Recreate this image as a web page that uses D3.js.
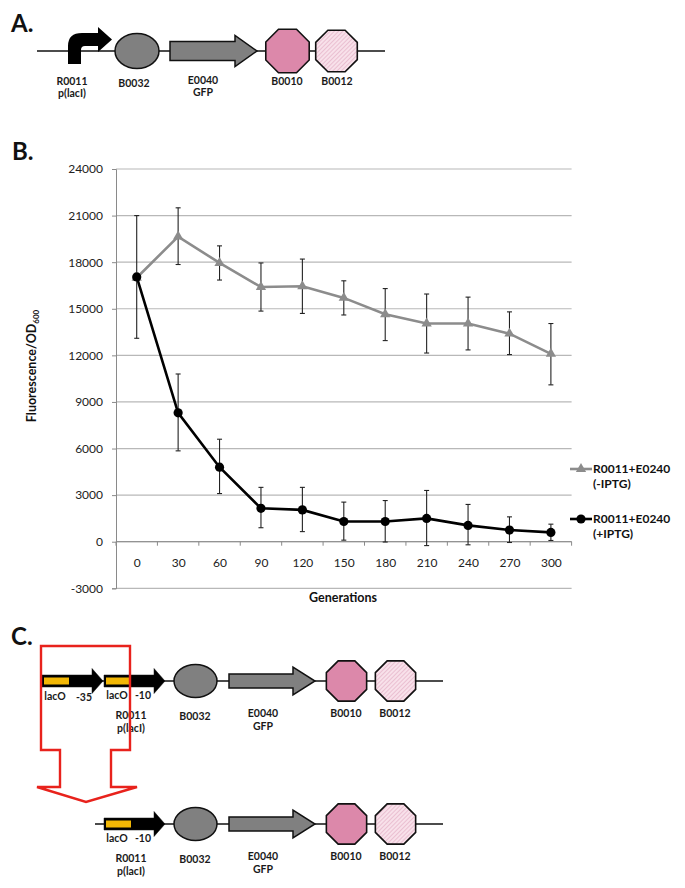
<!DOCTYPE html>
<html><head><meta charset="utf-8">
<script src="https://cdn.jsdelivr.net/npm/d3@7"></script>
<style>
body{margin:0;background:#fff;}
svg{display:block;font-family:Lato,"Open Sans",sans-serif;}
</style></head>
<body>
<svg id="fig" width="685" height="888"></svg>
<script>
// ---------- data ----------
const generations = ["0","30","60","90","120","150","180","210","240","270","300"];
const yTicks = [-3000,0,3000,6000,9000,12000,15000,18000,21000,24000];
const minusIPTG     = [17000,19650,17950,16400,16450,15700,14650,14050,14050,13400,12100];
const minusIPTGLow  = [13100,17850,16850,14850,14700,14600,12950,12150,12350,12050,10100];
const minusIPTGHigh = [21000,21500,19050,17950,18200,16800,16300,15950,15750,14800,14050];
const plusIPTG      = [17050,8300,4800,2150,2050,1300,1300,1500,1050,750,600];
const plusIPTGLow   = [null,5850,3100,900,650,100,-20,-250,-200,-50,80];
const plusIPTGHigh  = [null,10800,6600,3500,3500,2550,2650,3300,2400,1600,1130];
const seriesNames = ["R0011+E0240|(-IPTG)","R0011+E0240|(+IPTG)"];

const svg = d3.select("#fig");
svg.append("rect").attr("width",685).attr("height",888).attr("fill","#fff");

// hatch pattern
const defs = svg.append("defs");
const pat = defs.append("pattern").attr("id","hatch").attr("patternUnits","userSpaceOnUse")
  .attr("width",3).attr("height",3).attr("patternTransform","rotate(45)");
pat.append("rect").attr("width",3).attr("height",3).attr("fill","#f8e1ea");
pat.append("line").attr("x1",0).attr("y1",0).attr("x2",0).attr("y2",3).attr("stroke","#e2a9c0").attr("stroke-width",1.2);

const TXT = "#1a1a1a";
function label(g,x,y,t,size,anchor){
  return g.append("text").attr("x",x).attr("y",y).attr("text-anchor",anchor||"middle")
    .attr("font-size",size||10.5).attr("font-weight","bold").attr("fill",TXT).text(t);
}
function octagon(g,cx,cy,r,fill){
  const pts=d3.range(8).map(i=>{const a=Math.PI/8+i*Math.PI/4;return [cx+r*Math.cos(a),cy+r*Math.sin(a)];});
  g.append("polygon").attr("points",pts.map(p=>p.join(",")).join(" "))
    .attr("fill",fill).attr("stroke","#111").attr("stroke-width",1.6);
}
function bigArrow(g,x0,x1,hx,cy,bh,hh,fill,sw){
  const d=`M${x0},${cy-bh/2}L${hx},${cy-bh/2}L${hx},${cy-hh/2}L${x1},${cy}L${hx},${cy+hh/2}L${hx},${cy+bh/2}L${x0},${cy+bh/2}Z`;
  g.append("path").attr("d",d).attr("fill",fill).attr("stroke","#111").attr("stroke-width",sw);
}

// ---------- Panel A ----------
const A = svg.append("g");
A.append("text").attr("x",11).attr("y",32).attr("font-size",24).attr("font-weight","bold").attr("fill","#111").text("A.");
A.append("line").attr("x1",37).attr("x2",385).attr("y1",51).attr("y2",51).attr("stroke","#111").attr("stroke-width",1.6);
A.append("path").attr("d","M68,64L68,46Q68,33 82,33L98,33L98,27L112,39.5L98,52L98,46L85,46Q81,46 81,50L81,64Z").attr("fill","#000");
A.append("ellipse").attr("cx",137).attr("cy",51).attr("rx",22).attr("ry",17.5).attr("fill","#808080").attr("stroke","#111").attr("stroke-width",1.5);
bigArrow(A,170,257,235,51,19,31,"#808080",1.5);
octagon(A,287.5,51,23.5,"#dc88aa");
octagon(A,336.5,51,22.5,"url(#hatch)");
label(A,72,85,"R0011"); label(A,72,97,"p(lacI)");
label(A,134,87,"B0032");
label(A,203,84,"E0040"); label(A,203,96,"GFP");
label(A,287,85,"B0010"); label(A,337,85,"B0012");

// ---------- Panel B ----------
const B = svg.append("g");
B.append("text").attr("x",12).attr("y",160).attr("font-size",24).attr("font-weight","bold").attr("fill","#111").text("B.");
const x = d3.scalePoint().domain(generations).range([116,571.6]).padding(0.5);
const y = d3.scaleLinear().domain([-3000,24000]).range([588.3,169]);
const step = x.step();

B.selectAll("line.grid").data(yTicks).join("line").attr("class","grid")
  .attr("x1",116).attr("x2",571.6).attr("y1",d=>y(d)).attr("y2",d=>y(d))
  .attr("stroke","#b8b8b8").attr("stroke-width",1.2);
// y axis
const yAxis = d3.axisLeft(y).tickValues(yTicks).tickSize(4).tickPadding(9).tickFormat(d=>String(d));
const yg = B.append("g").attr("transform","translate(116,0)").call(yAxis);
yg.select(".domain").attr("stroke","#8a8a8a");
yg.selectAll(".tick line").attr("stroke","#8a8a8a");
yg.selectAll(".tick text").attr("font-size",12).attr("fill","#222").attr("font-family","Lato,sans-serif");
// x axis at y=0
const xAxis = d3.axisBottom(x).tickSize(0).tickPadding(17);
const xg = B.append("g").attr("transform",`translate(0,${y(0)})`).call(xAxis);
xg.select(".domain").attr("stroke","#8a8a8a").attr("d",`M116,0H571.6`);
xg.selectAll(".tick text").attr("font-size",12).attr("fill","#222").attr("font-family","Lato,sans-serif");
xg.selectAll("line.bt").data(d3.range(generations.length+1)).join("line").attr("class","bt")
  .attr("x1",i=>116+i*step).attr("x2",i=>116+i*step).attr("y1",0).attr("y2",4).attr("stroke","#8a8a8a");

B.append("text").attr("x",343).attr("y",602).attr("text-anchor","middle").attr("font-size",12.5).attr("font-weight","bold").attr("fill","#111").text("Generations");
const yt = B.append("text").attr("transform","translate(36,366) rotate(-90)").attr("text-anchor","middle")
  .attr("font-size",12.5).attr("font-weight","bold").attr("fill","#111");
yt.append("tspan").text("Fluorescence/OD");
yt.append("tspan").attr("font-size",8).attr("dy",3).text("600");

const line = d3.line().x((d,i)=>x(generations[i])).y(d=>y(d));
const GRAY = "#8c8c8c";
B.append("path").datum(minusIPTG).attr("d",line).attr("fill","none").attr("stroke",GRAY).attr("stroke-width",2.6);
B.append("path").datum(plusIPTG).attr("d",line).attr("fill","none").attr("stroke","#000").attr("stroke-width",2.6);

function errBars(lo,hi,col){
  const data = generations.map((g,i)=>({g,lo:lo[i],hi:hi[i]})).filter(d=>d.lo!=null);
  const eg = B.append("g").attr("stroke",col).attr("stroke-width",1.1);
  eg.selectAll("line.v").data(data).join("line").attr("x1",d=>x(d.g)).attr("x2",d=>x(d.g)).attr("y1",d=>y(d.lo)).attr("y2",d=>y(d.hi));
  eg.selectAll("line.t").data(data).join("line").attr("x1",d=>x(d.g)-2.5).attr("x2",d=>x(d.g)+2.5).attr("y1",d=>y(d.hi)).attr("y2",d=>y(d.hi));
  eg.selectAll("line.b").data(data).join("line").attr("x1",d=>x(d.g)-2.5).attr("x2",d=>x(d.g)+2.5).attr("y1",d=>y(d.lo)).attr("y2",d=>y(d.lo));
}
errBars(minusIPTGLow,minusIPTGHigh,"#222");
errBars(plusIPTGLow,plusIPTGHigh,"#222");

const tri = d3.symbol().type(d3.symbolTriangle).size(46);
B.selectAll("path.tri").data(minusIPTG).join("path").attr("class","tri")
  .attr("transform",(d,i)=>`translate(${x(generations[i])},${y(d)})`).attr("d",tri).attr("fill",GRAY);
B.selectAll("circle.dot").data(plusIPTG).join("circle").attr("class","dot")
  .attr("cx",(d,i)=>x(generations[i])).attr("cy",d=>y(d)).attr("r",4.6).attr("fill","#000");

// legend
const legY = [469,519];
seriesNames.forEach((nm,k)=>{
  const g = B.append("g");
  g.append("line").attr("x1",570).attr("x2",592).attr("y1",legY[k]).attr("y2",legY[k]).attr("stroke",k?"#000":GRAY).attr("stroke-width",2.6);
  if(k) g.append("circle").attr("cx",581).attr("cy",legY[k]).attr("r",4.6).attr("fill","#000");
  else g.append("path").attr("transform",`translate(581,${legY[k]})`).attr("d",tri).attr("fill",GRAY);
  const parts = nm.split("|");
  g.append("text").attr("x",593).attr("y",legY[k]+4).attr("font-size",12).attr("font-weight","bold").attr("fill","#111").text(parts[0]);
  g.append("text").attr("x",593).attr("y",legY[k]+19).attr("font-size",12).attr("font-weight","bold").attr("fill","#111").text(parts[1]);
});

// ---------- Panel C ----------
const C = svg.append("g");
C.append("text").attr("x",11).attr("y",645).attr("font-size",24).attr("font-weight","bold").attr("fill","#111").text("C.");
function construct(cy,withFirst,lineStart,lblDy){
  C.append("line").attr("x1",lineStart).attr("x2",443).attr("y1",cy).attr("y2",cy).attr("stroke","#111").attr("stroke-width",1.6);
  const starts = withFirst?[42,104]:[104];
  starts.forEach(s=>{
    bigArrow(C,s,s+61,s+50,cy,12,25,"#000",0.5);
    C.append("rect").attr("x",s+2).attr("y",cy-3.5).attr("width",25).attr("height",7).attr("fill","#f2b705");
  });
  if(withFirst){ label(C,55,cy+19,"lacO"); label(C,84,cy+20,"-35"); }
  label(C,117,cy+18,"lacO"); label(C,143,cy+18,"-10");
  C.append("ellipse").attr("cx",195.5).attr("cy",cy).attr("rx",21.5).attr("ry",16.5).attr("fill","#808080").attr("stroke","#111").attr("stroke-width",1.5);
  bigArrow(C,229,315,293,cy,14,28,"#808080",1.5);
  octagon(C,346.5,cy,21.8,"#dc88aa");
  octagon(C,395.5,cy,21.8,"url(#hatch)");
  label(C,131,cy+lblDy+2,"R0011"); label(C,131,cy+lblDy+15,"p(lacI)");
  label(C,195,cy+lblDy+3,"B0032");
  label(C,263,cy+lblDy,"E0040"); label(C,263,cy+lblDy+13,"GFP");
  label(C,346,cy+lblDy,"B0010"); label(C,395,cy+lblDy,"B0012");
}
construct(681,true,42,36);
construct(824,false,95,36);
C.append("path").attr("d","M41,646L130,646L130,750L111,750L111,787L137,787L86,802L37,787L60,787L60,750L41,750Z")
  .attr("fill","none").attr("stroke","#e8221c").attr("stroke-width",2.4);
</script>
</body></html>
